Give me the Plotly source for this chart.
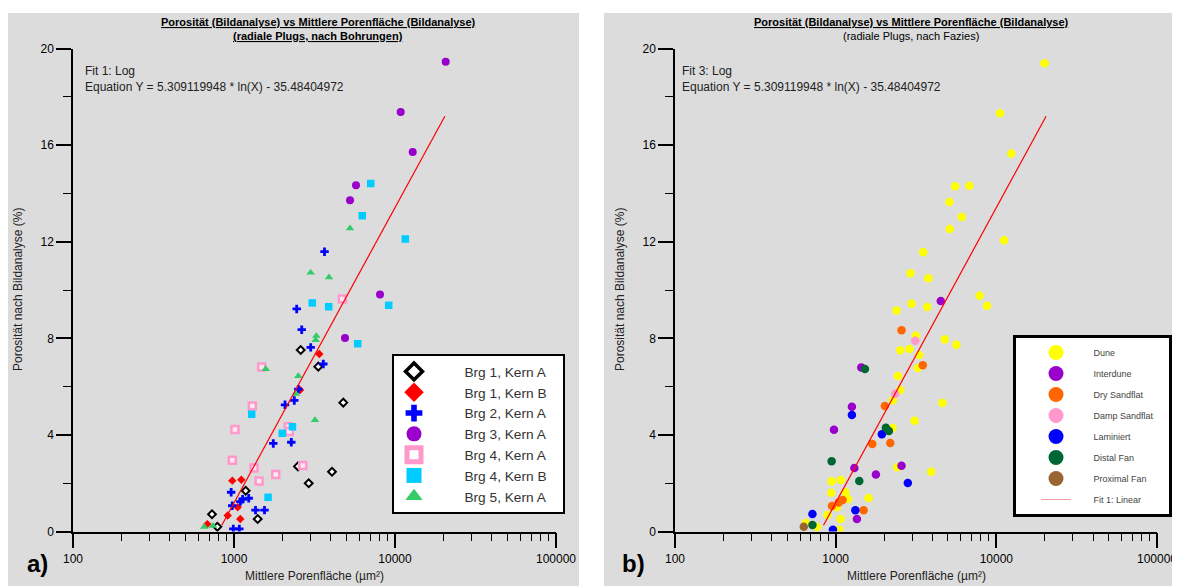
import math
import plotly.graph_objects as go

# page offset (body margin) compensation: design pixels are reference pixels
OFF = 8
FW, FH = 1180 - OFF, 586 - OFF

def PX(x):
    return (x - OFF) / FW

def PY(y):
    return 1 - (y - OFF) / FH

# ---------------- data (left panel: by borehole) ----------------
brg1a_x = [2596, 3339, 4774, 2497, 4061, 2911, 1182, 1403, 730, 788]
brg1a_y = [7.52, 6.83, 5.34, 2.70, 2.48, 2.00, 1.69, 0.52, 0.72, 0.20]

brg1b_x = [3387, 2570, 976, 1110, 1054, 914, 1094, 683]
brg1b_y = [7.35, 5.86, 2.11, 2.15, 1.01, 0.67, 0.52, 0.31]

brg2a_x = [3649, 2452, 2634, 2995, 3587, 2508, 2368, 2074, 1754, 2269,
           960, 1094, 1132, 1234, 975, 1360, 1547, 990, 1079]
brg2a_y = [11.59, 9.22, 8.36, 7.63, 6.94, 5.90, 5.43, 5.25, 3.65, 3.70,
           1.63, 1.24, 1.34, 1.38, 1.07, 0.89, 0.89, 0.11, 0.11]

brg3a_x = [20650, 10850, 12880, 5724, 5254, 8070, 4891]
brg3a_y = [19.46, 17.37, 15.72, 14.34, 13.72, 9.82, 8.02]

brg4a_x = [4706, 1486, 1299, 2174, 2205, 1014, 976, 1331, 2675, 1818, 1432]
brg4a_y = [9.63, 6.82, 5.20, 4.34, 4.14, 4.23, 2.95, 2.63, 2.74, 2.36, 2.10]

brg4b_x = [7066, 6265, 11590, 3064, 3874, 9140, 5864, 1288, 2308, 1995, 1628]
brg4b_y = [14.41, 13.08, 12.12, 9.47, 9.31, 9.37, 7.78, 4.86, 4.34, 4.07, 1.42]

brg5a_x = [5254, 2995, 3890, 3245, 3217, 1574, 2508, 2427, 3185, 654, 741]
brg5a_y = [12.56, 10.72, 10.53, 8.10, 7.93, 6.73, 6.44, 5.70, 4.62, 0.20, 0.24]

# ---------------- data (right panel: by facies) ----------------
dune_x = [19950, 10540, 12395, 5539, 6798, 5106, 6087, 5128, 11160, 3505,
          2923, 3781, 7877, 2392, 2965, 3712, 8754, 3153, 2522, 2881,
          4774, 5643, 3311, 3245, 2438, 2522, 2269, 4619, 3095, 2259,
          2416, 3930, 944, 1079, 940, 1149, 1192, 1603, 1019, 888,
          1074, 766, 651, 1054]
dune_y = [19.39, 17.32, 15.66, 14.30, 14.32, 13.65, 13.03, 12.53, 12.06, 11.57,
          10.70, 10.49, 9.77, 9.16, 9.44, 9.30, 9.35, 8.11, 7.51, 7.56,
          7.96, 7.74, 7.31, 6.77, 6.44, 5.86, 5.44, 5.33, 4.59, 4.29,
          2.66, 2.48, 2.08, 2.14, 1.61, 1.63, 1.35, 1.39, 1.01, 0.69,
          0.52, 0.19, 0.36, 0.08]

interdune_x = [4508, 1444, 1262, 976, 1307, 2570, 1780, 1356]
interdune_y = [9.55, 6.80, 5.17, 4.22, 2.63, 2.73, 2.36, 0.52]

dry_x = [2570, 3485, 2024, 1690, 2187, 1105, 1044, 948, 1493]
dry_y = [8.34, 6.89, 5.20, 3.63, 3.67, 1.31, 1.21, 1.06, 0.88]

damp_x = [3126, 2348]
damp_y = [7.90, 5.71]

lam_x = [1262, 1939, 2813, 1326, 717, 962]
lam_y = [4.83, 4.03, 2.01, 0.88, 0.73, 0.08]

distal_x = [1521, 2053, 2143, 944, 1403, 717]
distal_y = [6.73, 4.30, 4.17, 2.91, 2.10, 0.27]

proximal_x = [633]
proximal_y = [0.20]

# ---------------- fit ----------------
fit_a = 5.309119948
fit_b = -35.48404972
fit_x = [840, 20400]
fit_y = [fit_a * math.log(v) + fit_b for v in fit_x]

# ---------------- ticks ----------------
x_ticks = [100, 1000, 10000, 100000]
x_ticktext = ["100", "1000", "10000", "100000"]
x_minor = [m * d for d in (100, 1000, 10000) for m in range(2, 10)]
y_ticks = [0, 4, 8, 12, 16, 20]
y_minor = [2, 6, 10, 14, 18]

FONT = "Liberation Sans, Arial, sans-serif"
NB = "\u00a0"

fig = go.Figure()

left_series = [
    ("Brg 1, Kern A", brg1a_x, brg1a_y, dict(symbol="diamond", size=6, color="white", line=dict(color="black", width=2)),
     dict(symbol="diamond", size=13, color="white", line=dict(color="black", width=3.5))),
    ("Brg 1, Kern B", brg1b_x, brg1b_y, dict(symbol="diamond", size=6.5, color="#FF0000"),
     dict(symbol="diamond", size=15, color="#FF0000")),
    ("Brg 2, Kern A", brg2a_x, brg2a_y, dict(symbol="cross", size=7, color="#0000FF"),
     dict(symbol="cross", size=14, color="#0000FF")),
    ("Brg 3, Kern A", brg3a_x, brg3a_y, dict(symbol="circle", size=8, color="#9900CC"),
     dict(symbol="circle", size=15, color="#9900CC")),
    ("Brg 4, Kern A", brg4a_x, brg4a_y, dict(symbol="square", size=7, color="#FFE8F2", line=dict(color="#FF99CC", width=2.5)),
     dict(symbol="square", size=14, color="white", line=dict(color="#FF99CC", width=5))),
    ("Brg 4, Kern B", brg4b_x, brg4b_y, dict(symbol="square", size=7.5, color="#00CCFF"),
     dict(symbol="square", size=15, color="#00CCFF")),
    ("Brg 5, Kern A", brg5a_x, brg5a_y, dict(symbol="triangle-up", size=7.5, color="#33CC66"),
     dict(symbol="triangle-up", size=15, color="#33CC66")),
]

for name, xs, ys, mk, lmk in left_series:
    fig.add_trace(go.Scatter(x=xs, y=ys, mode="markers", marker=mk, showlegend=False,
                             xaxis="x", yaxis="y", hoverinfo="x+y"))
fig.add_trace(go.Scatter(x=fit_x, y=fit_y, mode="lines", line=dict(color="#FF0000", width=1.2),
                         showlegend=False, xaxis="x", yaxis="y"))
for i, (name, xs, ys, mk, lmk) in enumerate(left_series):
    fig.add_trace(go.Scatter(x=[None], y=[None], mode="markers", marker=lmk,
                             name=NB * 8 + name + (NB * 3 if i == 0 else ""),
                             legend="legend", xaxis="x", yaxis="y"))

right_series = [
    ("Dune", dune_x, dune_y, "#FFFF00"),
    ("Interdune", interdune_x, interdune_y, "#9900CC"),
    ("Dry Sandflat", dry_x, dry_y, "#FF6600"),
    ("Damp Sandflat", damp_x, damp_y, "#FF99CC"),
    ("Laminiert", lam_x, lam_y, "#0000FF"),
    ("Distal Fan", distal_x, distal_y, "#006633"),
    ("Proximal Fan", proximal_x, proximal_y, "#996633"),
]
for name, xs, ys, col in right_series:
    fig.add_trace(go.Scatter(x=xs, y=ys, mode="markers", marker=dict(symbol="circle", size=8.5, color=col),
                             showlegend=False, xaxis="x2", yaxis="y2"))
fig.add_trace(go.Scatter(x=fit_x, y=fit_y, mode="lines", line=dict(color="#FF0000", width=1.2),
                         showlegend=False, xaxis="x2", yaxis="y2"))
for name, xs, ys, col in right_series:
    label = NB * 7 + name + (NB * 4 if name == "Damp Sandflat" else "")
    fig.add_trace(go.Scatter(x=[None], y=[None], mode="markers", marker=dict(symbol="circle", size=15, color=col),
                             name=label, legend="legend2", legendgroup=name, xaxis="x2", yaxis="y2"))
fig.add_trace(go.Scatter(x=[None], y=[None], mode="lines", line=dict(color="#F4A0A0", width=1),
                         name=NB * 7 + "Fit 1: Linear", legend="legend2", legendgroup="fit", xaxis="x2", yaxis="y2"))

ydom = [PY(531.6), PY(48.6)]

def xax(dom):
    return dict(type="log", range=[2, 5], domain=dom, showline=True, linecolor="black", linewidth=1.5,
                ticks="outside", ticklen=15, tickwidth=1.5, tickcolor="black",
                tickvals=x_ticks, ticktext=x_ticktext, showgrid=False, zeroline=False, automargin=False,
                tickfont=dict(family=FONT, size=12, color="black"),
                minor=dict(tickvals=x_minor, ticks="outside", ticklen=8, tickwidth=1.2,
                           tickcolor="black", showgrid=False))

def yax(anchor):
    return dict(range=[0, 20], domain=ydom, anchor=anchor, showline=True, linecolor="black", linewidth=1.5,
                ticks="outside", ticklen=15, tickwidth=1.5, tickcolor="black",
                tickvals=y_ticks, showgrid=False, zeroline=False, automargin=False,
                tickfont=dict(family=FONT, size=12, color="black"),
                minor=dict(tickvals=y_minor, ticks="outside", ticklen=8, tickwidth=1.2,
                           tickcolor="black", showgrid=False))

fig.update_layout(
    width=FW, height=FH, margin=dict(l=0, r=0, t=0, b=0, pad=0, autoexpand=False),
    paper_bgcolor="white", plot_bgcolor="rgba(0,0,0,0)",
    font=dict(family=FONT, color="black"),
    xaxis=dict(xax([PX(73), PX(556)]), anchor="y"),
    yaxis=yax("x"),
    xaxis2=dict(xax([PX(675), PX(1157)]), anchor="y2"),
    yaxis2=yax("x2"),
    legend=dict(x=PX(392), y=PY(354), xanchor="left", yanchor="top", bgcolor="white",
                bordercolor="black", borderwidth=2, font=dict(family=FONT, size=13.7, color="#333333"),
                itemwidth=30, tracegroupgap=0, itemclick=False),
    legend2=dict(x=PX(1013), y=PY(335), xanchor="left", yanchor="top", bgcolor="white",
                 bordercolor="black", borderwidth=3, font=dict(family=FONT, size=9, color="#444444"),
                 itemwidth=30, indentation=20, tracegroupgap=2, itemclick=False),
    shapes=[
        dict(type="rect", xref="paper", yref="paper", x0=PX(8), x1=PX(579), y0=0, y1=PY(13),
             fillcolor="#DCDCDC", line=dict(width=0), layer="below"),
        dict(type="rect", xref="paper", yref="paper", x0=PX(604), x1=1, y0=0, y1=PY(13),
             fillcolor="#DCDCDC", line=dict(width=0), layer="below"),
    ],
)

def ann(text, x, y, size=12, xanchor="center", yanchor="middle", angle=0, color="black", align="left"):
    fig.add_annotation(text=text, x=PX(x), y=PY(y), xref="paper", yref="paper", showarrow=False,
                       xanchor=xanchor, yanchor=yanchor, textangle=angle, align=align,
                       font=dict(family=FONT, size=size, color=color))

title1 = "Porosität (Bildanalyse) vs Mittlere Porenfläche (Bildanalyse)"
ann("<u><b>" + title1 + "</b></u>", 318, 22, size=11)
ann("<u><b>(radiale Plugs, nach Bohrungen)</b></u>", 318, 36, size=11)
ann("<u><b>" + title1 + "</b></u>", 911, 22, size=11)
ann("(radiale Plugs, nach Fazies)", 911, 36, size=11)

eq = "Equation Y = 5.309119948 * ln(X) - 35.48404972"
ann("Fit 1: Log<br>" + eq, 83, 62, size=12, xanchor="left", yanchor="top", color="#222222")
ann("Fit 3: Log<br>" + eq, 680, 62, size=12, xanchor="left", yanchor="top", color="#222222")

ann("Mittlere Porenfläche (µm²)", 314, 576, size=12, color="#222222")
ann("Mittlere Porenfläche (µm²)", 916, 576, size=12, color="#222222")
ann("Porosität nach Bildanalyse (%)", 18, 290, size=12, angle=-90, color="#222222")
ann("Porosität nach Bildanalyse (%)", 620, 290, size=12, angle=-90, color="#222222")

ann("<b>a)</b>", 37, 563, size=24)
ann("<b>b)</b>", 633, 563, size=24)

fig.write_html("out.html")
